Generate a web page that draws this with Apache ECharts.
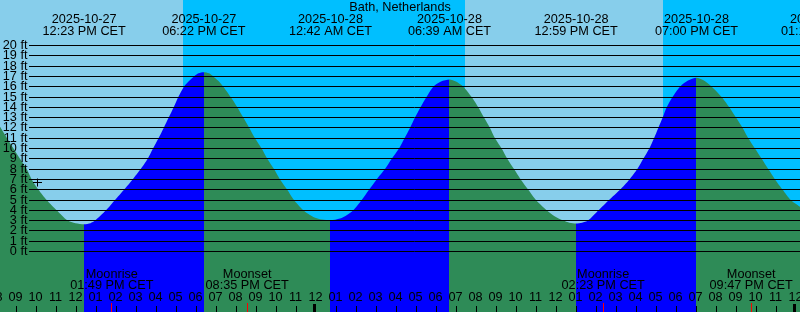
<!DOCTYPE html>
<html><head><meta charset="utf-8">
<script src="https://cdn.jsdelivr.net/npm/echarts@6/dist/echarts.min.js"></script>
<style>html,body{margin:0;padding:0;background:#fff}#c{width:800px;height:312px}</style>
</head><body><div id="c"></div>
<script>
// All times are hours relative to 2025-10-28 00:00 CET
const tideHours = [-15.825,-15.475,-15.15,-14.825,-14.49,-14.24,-13.9,-13.49,-12.99,-12.45,-12.05,-11.617,-11.3,-11.075,-10.525,-10.075,-9.625,-9.19,-8.79,-8.44,-8.175,-7.9,-7.64,-7.39,-7.14,-6.91,-6.625,-6.375,-6.125,-5.9,-5.633,-5.375,-5.16,-4.925,-4.66,-4.29,-3.96,-3.66,-3.36,-3.075,-2.74,-2.46,-2.125,-1.825,-1.46,-1.125,-0.66,-0.16,0.275,0.7,1.175,1.525,1.84,2.26,2.625,3.01,3.425,3.76,4.125,4.4,4.675,4.925,5.2,5.5,5.84,6.225,6.65,6.975,7.34,7.76,8.09,8.375,8.675,8.925,9.26,9.54,9.875,10.21,10.59,10.975,11.51,11.925,12.34,12.65,12.983,13.275,13.575,14.1,14.625,15.175,15.65,16.04,16.34,16.64,16.875,17.09,17.31,17.51,17.8,18.175,18.575,19.0,19.35,19.76,20.26,20.64,20.975,21.31,21.59,21.925,22.26,22.59,22.925,23.31,23.71,24.175];
const tideFeet = [12.1,11,10,9,8,7,6,5,4,3,2.75,2.65,2.75,3,4,5,6,7,8,9,10,11,12,13,14,15,16,16.55,17,17.3,17.4,17.3,17,16.6,16,15,14,13,12,11,10,9,8,7,6,5,4,3.35,3.1,3.03,3.2,3.55,4,5,6,7,8,9,10,11,12,13,14,15,16,16.5,16.7,16.5,16,15,14,13,12,11,10,9,8,7,6,5,4,3.4,3,2.8,2.71,2.8,3,4,5,6,7,8,9,10,11,12,13,14,15,16,16.6,16.87,16.62,16,15,14,13,12,11,10,9,8,7,6,5,4.35];

const extremeHours = [-11.617,-5.633,0.7,6.65,12.983,19.0,25.3];
const extremeDates = ['2025-10-27','2025-10-27','2025-10-28','2025-10-28','2025-10-28','2025-10-28','2025-10-29'];
const extremeTimes = ['12:23 PM CET','06:22 PM CET','12:42 AM CET','06:39 AM CET','12:59 PM CET','07:00 PM CET','01:18 AM CET'];

const sunHours = [-6.675, 7.425, 17.325]; // sunset, sunrise, sunset

const moonHours = [-10.183,-3.417,14.383,21.783];
const moonEvents = ['Moonrise','Moonset','Moonrise','Moonset'];
const moonTimes = ['01:49 PM CET','08:35 PM CET','02:23 PM CET','09:47 PM CET'];

const hourTicks = [-16,-15,-14,-13,-12,-11,-10,-9,-8,-7,-6,-5,-4,-3,-2,-1,0,1,2,3,4,5,6,7,8,9,10,11,12,13,14,15,16,17,18,19,20,21,22,23,24];
const hourLabels = ['08','09','10','11','12','01','02','03','04','05','06','07','08','09','10','11','12','01','02','03','04','05','06','07','08','09','10','11','12','01','02','03','04','05','06','07','08','09','10','11','12'];

const ftTicks = [0,1,2,3,4,5,6,7,8,9,10,11,12,13,14,15,16,17,18,19,20];
const ftLabels = ftTicks.map(v => v + ' ft');

const markHour = [-13.95];
const markFeet = [6.7];

const title = 'Bath, Netherlands';

// view window
const xMin = -15.825, xMax = 24.175;
const yMin = -5.8738, yMax = 24.4175;

const DAY = '#87CEEB', NIGHT = '#00BFFF', RISE = '#0000FF', FALL = '#2E8B57';
const FONT = 'normal 12.7px "Liberation Sans", Arial, sans-serif';

function txt(text, x, y, align) {
  return {type:'text', style:{text:text, x:x, y:y, align:align||'center', verticalAlign:'middle',
    textAlign:align||'center', textVerticalAlign:'middle', font:FONT, fill:'#000'}};
}

const bandEdges = [xMin].concat(sunHours).concat([xMax]);
const bandData = bandEdges.slice(0,-1).map((s,i)=>[s, bandEdges[i+1]]);

const pieces = [];
{
  const ext = extremeHours.slice(0, 6);
  pieces.push({lt: ext[0], color: FALL});
  for (let i = 0; i < ext.length - 1; i++) {
    pieces.push({gte: ext[i], lt: ext[i+1], color: (i % 2 === 0) ? RISE : FALL});
  }
  pieces.push({gte: ext[ext.length-1], color: FALL});
}

const chart = echarts.init(document.getElementById('c'), null, {renderer:'canvas'});
chart.setOption({
  animation: false,
  backgroundColor: '#fff',
  title: {text: title, left: 'center', top: 1, padding: 0,
    textStyle: {fontFamily: '"Liberation Sans", Arial, sans-serif', fontSize: 12.7, fontWeight: 'normal', color: '#000'}},
  grid: {left: 0, right: 0, top: 0, bottom: 0, containLabel: false},
  xAxis: {type: 'value', min: xMin, max: xMax, show: false},
  yAxis: {type: 'value', min: yMin, max: yMax, show: false},
  visualMap: {show: false, type: 'piecewise', dimension: 0, seriesIndex: 1, pieces: pieces},
  series: [
    { // day / night bands
      type: 'custom', z: 1, silent: true,
      data: bandData,
      renderItem: function (params, api) {
        const x0 = api.coord([api.value(0), 0])[0];
        const x1 = api.coord([api.value(1), 0])[0];
        const cs = params.coordSys;
        return {type:'rect', shape:{x:x0, y:cs.y, width:x1-x0, height:cs.height},
          style:{fill: params.dataIndex % 2 === 0 ? DAY : NIGHT}};
      }
    },
    { // tide water
      type: 'line', z: 2, silent: true,
      data: tideHours.map((h,i)=>[h, tideFeet[i]]),
      smooth: 0.25,
      symbol: 'none', showSymbol: false,
      lineStyle: {width: 0, opacity: 0},
      areaStyle: {opacity: 1, origin: 'start'}
    },
    { // horizontal ft grid lines + labels
      type: 'custom', z: 3, silent: true,
      data: ftTicks.map(v => [0, v]),
      renderItem: function (params, api) {
        const y = Math.round(api.coord([0, api.value(1)])[1] - 0.5) + 0.5;
        const cs = params.coordSys;
        return {type:'group', children:[
          {type:'line', shape:{x1:29, y1:y, x2:cs.x+cs.width, y2:y}, style:{stroke:'#000', lineWidth:1}},
          txt(ftLabels[params.dataIndex], 27.5, y, 'right')
        ]};
      }
    },
    { // tide extreme labels on top
      type: 'custom', z: 4, silent: true,
      data: extremeHours.map(h => [h, 0]),
      renderItem: function (params, api) {
        const x = api.coord([api.value(0), 0])[0];
        const i = params.dataIndex;
        return {type:'group', children:[
          txt(extremeDates[i], x, 19.5),
          txt(extremeTimes[i], x, 31.3)
        ]};
      }
    },
    { // hour ticks and labels
      type: 'custom', z: 4, silent: true,
      data: hourTicks.map(h => [h, 0]),
      renderItem: function (params, api) {
        const i = params.dataIndex;
        const x = api.coord([api.value(0), 0])[0];
        const children = [];
        if (hourTicks[i] % 24 === 0) {
          children.push({type:'rect', shape:{x:Math.floor(x)-3, y:304, width:3, height:8}, style:{fill:'#000'}});
        } else {
          const xc = Math.floor(x) + 0.5;
          children.push({type:'line', shape:{x1:xc, y1:306, x2:xc, y2:312}, style:{stroke:'#000', lineWidth:1}});
        }
        children.push(txt(hourLabels[i], x - 1, 297));
        return {type:'group', children: children};
      }
    },
    { // moon events
      type: 'custom', z: 4, silent: true,
      data: moonHours.map(h => [h, 0]),
      renderItem: function (params, api) {
        const i = params.dataIndex;
        const x = api.coord([api.value(0), 0])[0];
        const xc = Math.round(x - 1.5) + 0.5;
        return {type:'group', children:[
          {type:'line', shape:{x1:xc, y1:303, x2:xc, y2:312}, style:{stroke:'#FF0000', lineWidth:1}},
          txt(moonEvents[i], x - 1, 274),
          txt(moonTimes[i], x - 1, 285.5)
        ]};
      }
    },
    { // plus marker
      type: 'custom', z: 5, silent: true,
      data: markHour.map((h,i)=>[h, markFeet[i]]),
      renderItem: function (params, api) {
        const p = api.coord([api.value(0), api.value(1)]);
        const xc = Math.floor(p[0]) + 0.5, yc = Math.floor(p[1]) + 0.5;
        return {type:'group', children:[
          {type:'line', shape:{x1:xc-4.5, y1:yc, x2:xc+4.5, y2:yc}, style:{stroke:'#000', lineWidth:1}},
          {type:'line', shape:{x1:xc, y1:yc-4, x2:xc, y2:yc+4}, style:{stroke:'#000', lineWidth:1}}
        ]};
      }
    }
  ]
});
</script></body></html>
